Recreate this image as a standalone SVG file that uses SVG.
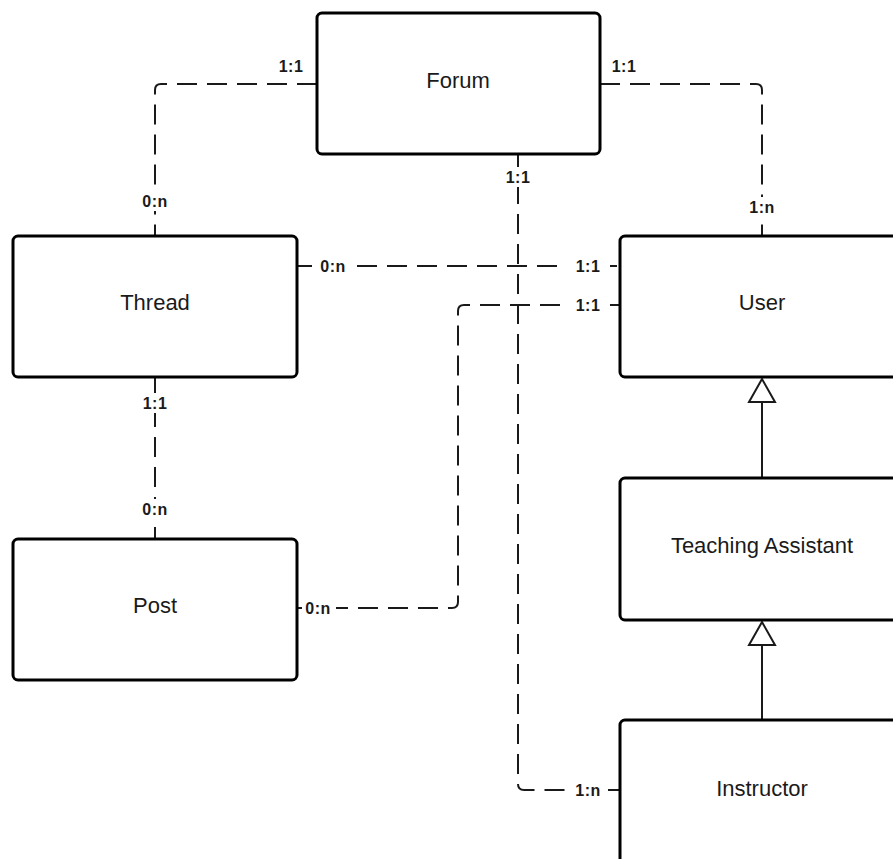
<svg xmlns="http://www.w3.org/2000/svg" width="893" height="859" viewBox="0 0 893 859">
  <style>
    .node rect { fill: #ffffff; stroke: #000000; stroke-width: 3; }
    .node text { font-family: "Liberation Sans", Arial, sans-serif; font-size: 22px; fill: #1a1a1a; text-anchor: middle; dominant-baseline: central; }
    .rel { fill: none; stroke: #1a1a1a; stroke-width: 2; stroke-dasharray: 20 10; }
    .gen { fill: none; stroke: #1a1a1a; stroke-width: 2; }
    .tri { fill: #ffffff; stroke: #1a1a1a; stroke-width: 2; stroke-linejoin: miter; }
    .lbg { fill: #ffffff; }
    .lbl { font-family: "Liberation Sans", Arial, sans-serif; font-size: 16px; font-weight: bold; fill: #1a1a1a; text-anchor: middle; dominant-baseline: central; letter-spacing: 0.5px; }
  </style>

  <!-- connectors -->
  <g id="connectors">
    <!-- Forum - Thread -->
    <path class="rel" d="M317 84 H161 Q155 84 155 90 V236"/>
    <!-- Forum - User -->
    <path class="rel" d="M600 84 H756 Q762 84 762 90 V236"/>
    <!-- Forum - Instructor -->
    <path class="rel" d="M518 154 V784 Q518 790 524 790 H620"/>
    <!-- Thread - User -->
    <path class="rel" d="M297 266 H620"/>
    <!-- User - Post -->
    <path class="rel" d="M620 305 H464 Q458 305 458 311 V602 Q458 608 452 608 H297"/>
    <!-- Thread - Post -->
    <path class="rel" d="M155 377 V539"/>
    <!-- Teaching Assistant is a User -->
    <path class="gen" d="M762 478 V402"/>
    <polygon class="tri" points="762,379 749,402 775,402"/>
    <!-- Instructor is a Teaching Assistant -->
    <path class="gen" d="M762 720 V645"/>
    <polygon class="tri" points="762,622 749,645 775,645"/>

    <!-- cardinality labels -->
    <g>
      <text class="lbl" x="291" y="66">1:1</text>
      <rect class="lbg" x="138" y="191" width="34" height="20"/>
      <text class="lbl" x="155" y="201">0:n</text>
      <text class="lbl" x="624" y="66">1:1</text>
      <rect class="lbg" x="745" y="197" width="34" height="20"/>
      <text class="lbl" x="762" y="207">1:n</text>
      <rect class="lbg" x="501" y="167" width="34" height="20"/>
      <text class="lbl" x="518" y="177">1:1</text>
      <rect class="lbg" x="568" y="780" width="40" height="20"/>
      <text class="lbl" x="588" y="790">1:n</text>
      <rect class="lbg" x="312" y="256" width="42" height="20"/>
      <text class="lbl" x="333" y="266">0:n</text>
      <rect class="lbg" x="566" y="256" width="44" height="20"/>
      <text class="lbl" x="588" y="266">1:1</text>
      <rect class="lbg" x="566" y="295" width="44" height="20"/>
      <text class="lbl" x="588" y="305">1:1</text>
      <rect class="lbg" x="302" y="598" width="34" height="20"/>
      <text class="lbl" x="318" y="608">0:n</text>
      <rect class="lbg" x="138" y="393" width="34" height="20"/>
      <text class="lbl" x="155" y="403">1:1</text>
      <rect class="lbg" x="138" y="499" width="34" height="20"/>
      <text class="lbl" x="155" y="509">0:n</text>
    </g>
  </g>

  <!-- entities -->
  <g id="forum" class="node">
    <rect x="317" y="13" width="283" height="141" rx="5"/>
    <text x="458" y="80">Forum</text>
  </g>
  <g id="thread" class="node">
    <rect x="13" y="236" width="284" height="141" rx="5"/>
    <text x="155" y="302">Thread</text>
  </g>
  <g id="user" class="node">
    <rect x="620" y="236" width="284" height="141" rx="5"/>
    <text x="762" y="302">User</text>
  </g>
  <g id="post" class="node">
    <rect x="13" y="539" width="284" height="141" rx="5"/>
    <text x="155" y="605">Post</text>
  </g>
  <g id="teaching-assistant" class="node">
    <rect x="620" y="478" width="284" height="142" rx="5"/>
    <text x="762" y="545">Teaching Assistant</text>
  </g>
  <g id="instructor" class="node">
    <rect x="620" y="720" width="284" height="145" rx="5"/>
    <text x="762" y="788">Instructor</text>
  </g>
</svg>
